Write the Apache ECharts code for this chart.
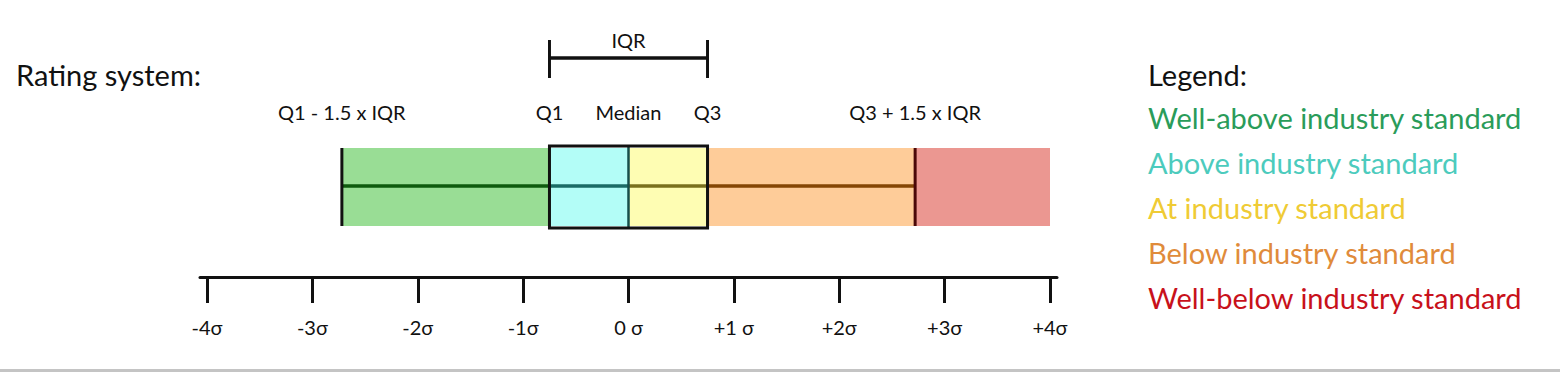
<!DOCTYPE html>
<html>
<head>
<meta charset="utf-8">
<script src="https://cdn.jsdelivr.net/npm/echarts@6/dist/echarts.min.js"></script>
<style>
html,body{margin:0;padding:0;background:#fff;}
#chart{width:1560px;height:372px;}
</style>
</head>
<body>
<div id="chart"></div>
<script>
// ---- data ----
const tickValues = [-4, -3, -2, -1, 0, 1, 2, 3, 4];
const tickLabels = ['-4σ', '-3σ', '-2σ', '-1σ', '0 σ', '+1 σ', '+2σ', '+3σ', '+4σ'];

const zoneNames = ['Well-above industry standard', 'Above industry standard', 'At industry standard', 'Below industry standard', 'Well-below industry standard'];
const zoneStarts = [-2.72, -0.75, 0, 0.75, 2.72];
const zoneEnds = [-0.75, 0, 0.75, 2.72, 4];
const zoneFills = ['#99dd95', '#b3fdf7', '#fefdb3', '#fecc99', '#eb9791'];
const zoneTextColors = ['#2a9c5a', '#4ccbbd', '#efcb35', '#e08b3b', '#c8111b'];
const whiskerColors = ['#0e5a0e', '#1a6b66', '#7a701c', '#854605'];

const lowerWhisker = -2.72;
const q1 = -0.75;
const median = 0;
const q3 = 0.75;
const upperWhisker = 2.72;
const statLabels = ['Q1 - 1.5 x IQR', 'Q1', 'Median', 'Q3', 'Q3 + 1.5 x IQR'];

// ---- chart ----
const chart = echarts.init(document.getElementById('chart'), null, {renderer: 'svg'});
const FONT = 'Lato';

const zoneSeries = zoneNames.map((name, i) => ({
  type: 'custom',
  name: name,
  xAxisIndex: 0,
  yAxisIndex: 0,
  silent: true,
  data: [[zoneStarts[i], zoneEnds[i], 0]],
  encode: {x: [0, 1], y: 2},
  renderItem: function (params, api) {
    const s = api.coord([api.value(0), 0]);
    const e = api.coord([api.value(1), 0]);
    return {
      type: 'rect',
      shape: {x: s[0], y: s[1] - 39, width: e[0] - s[0], height: 78},
      style: {fill: zoneFills[i]}
    };
  }
}));

const boxSeries = {
  type: 'custom',
  name: 'box',
  xAxisIndex: 0,
  yAxisIndex: 0,
  silent: true,
  clip: false,
  data: [[lowerWhisker, q1, median, q3, upperWhisker, 0]],
  encode: {x: [0, 1, 2, 3, 4], y: 5},
  renderItem: function (params, api) {
    const vals = [0, 1, 2, 3, 4].map(k => api.value(k));
    const px = vals.map(v => api.coord([v, 0])[0]);
    const cy = api.coord([0, 0])[1];
    const children = [];
    for (let k = 0; k < 4; k++) {
      children.push({
        type: 'line',
        shape: {x1: px[k], y1: cy - 1, x2: px[k + 1], y2: cy - 1},
        style: {stroke: whiskerColors[k], lineWidth: 3.5}
      });
    }
    children.push({type: 'line', shape: {x1: px[0], y1: cy - 39, x2: px[0], y2: cy + 39}, style: {stroke: '#111', lineWidth: 3}});
    children.push({type: 'line', shape: {x1: px[4], y1: cy - 39, x2: px[4], y2: cy + 39}, style: {stroke: '#4a0808', lineWidth: 3}});
    children.push({type: 'line', shape: {x1: px[2], y1: cy - 40, x2: px[2], y2: cy + 40}, style: {stroke: '#164e4b', lineWidth: 2.5}});
    children.push({type: 'rect', shape: {x: px[1], y: cy - 41, width: px[3] - px[1], height: 82}, style: {fill: 'none', stroke: '#111', lineWidth: 3}});
    for (let k = 0; k < 5; k++) {
      children.push({
        type: 'text',
        style: {text: statLabels[k], x: px[k], y: cy - 75, align: 'center', verticalAlign: 'middle', fontSize: 20, fontFamily: FONT, fill: '#111'}
      });
    }
    children.push({type: 'line', shape: {x1: px[1], y1: cy - 129, x2: px[3], y2: cy - 129}, style: {stroke: '#111', lineWidth: 3.5}});
    children.push({type: 'line', shape: {x1: px[1], y1: cy - 147, x2: px[1], y2: cy - 109}, style: {stroke: '#111', lineWidth: 3}});
    children.push({type: 'line', shape: {x1: px[3], y1: cy - 147, x2: px[3], y2: cy - 109}, style: {stroke: '#111', lineWidth: 3}});
    children.push({
      type: 'text',
      style: {text: 'IQR', x: px[2], y: cy - 147, align: 'center', verticalAlign: 'middle', fontSize: 20, fontFamily: FONT, fill: '#111'}
    });
    return {type: 'group', children: children};
  }
};

const option = {
  animation: false,
  backgroundColor: '#fff',
  title: [
    {text: 'Rating system:', left: 16, top: 60, padding: 0, textStyle: {fontFamily: FONT, fontSize: 29, fontWeight: 'normal', color: '#111'}},
    {text: 'Legend:', left: 1148, top: 60, padding: 0, textStyle: {fontFamily: FONT, fontSize: 29, fontWeight: 'normal', color: '#111'}}
  ],
  legend: {
    orient: 'vertical',
    left: 1143,
    top: 103,
    padding: 0,
    icon: 'none',
    itemWidth: 0,
    itemHeight: 10,
    itemGap: 16,
    selectedMode: false,
    textStyle: {fontFamily: FONT, fontSize: 29, lineHeight: 29},
    data: zoneNames.map((n, i) => ({name: n, textStyle: {color: zoneTextColors[i]}}))
  },
  grid: [
    {left: 207, right: 510, top: 97, bottom: 95},
    {left: 200, right: 503, top: 97, bottom: 95}
  ],
  xAxis: [
    {
      type: 'value', gridIndex: 0,
      min: tickValues[0], max: tickValues[tickValues.length - 1], interval: 1,
      axisLine: {show: false},
      axisTick: {show: true, inside: false, length: 26, lineStyle: {color: '#111', width: 3}},
      axisLabel: {
        margin: 40, fontFamily: FONT, fontSize: 20, color: '#111',
        formatter: function (v) { const i = tickValues.indexOf(v); return i >= 0 ? tickLabels[i] : ''; }
      },
      splitLine: {show: false}
    },
    {
      type: 'value', gridIndex: 1, min: 0, max: 1,
      axisLine: {show: true, lineStyle: {color: '#111', width: 3}},
      axisTick: {show: false}, axisLabel: {show: false}, splitLine: {show: false}
    }
  ],
  yAxis: [
    {type: 'category', gridIndex: 0, data: ['rating'], show: false},
    {type: 'value', gridIndex: 1, show: false}
  ],
  graphic: [
    {type: 'rect', left: 0, bottom: 0, shape: {width: 1560, height: 3}, style: {fill: '#c4c4c4'}, silent: true}
  ],
  series: zoneSeries.concat([boxSeries])
};
chart.setOption(option);
</script>
</body>
</html>
